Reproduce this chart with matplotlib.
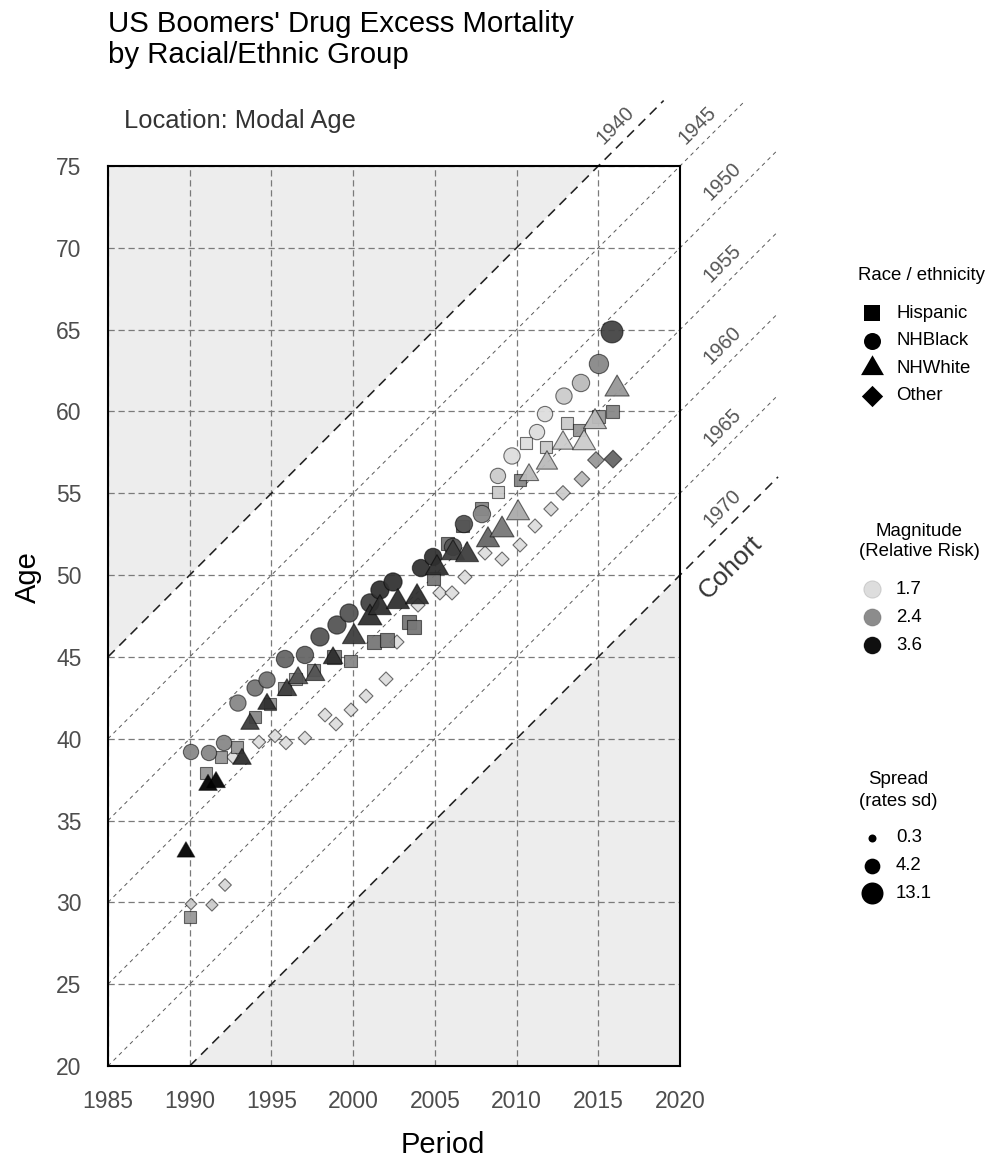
import numpy as np
import matplotlib
matplotlib.use("Agg")
import matplotlib.pyplot as plt
from matplotlib.path import Path
from matplotlib.colors import LinearSegmentedColormap, Normalize

plt.rcParams['font.family'] = ['Liberation Sans', 'DejaVu Sans']

# modal-age location per year, by group (period, age, relative risk, rates sd)
hisp_period = [1990.02, 1991.0, 1991.91, 1992.89, 1993.99, 1994.91, 1995.83, 1996.5, 1997.6,
               1998.83, 1999.81, 2001.28, 2002.07, 2003.42, 2003.72, 2004.89, 2005.8, 2006.72,
               2007.88, 2008.86, 2010.21, 2010.58, 2011.8, 2013.08, 2013.82, 2015.04, 2015.9]
hisp_age = [29.11, 37.91, 38.88, 39.5, 41.33, 42.12, 43.04, 43.65, 44.2,
            44.99, 44.75, 45.91, 46.03, 47.13, 46.83, 49.82, 51.96, 53.0,
            54.04, 55.08, 55.81, 58.07, 57.83, 59.29, 58.87, 59.72, 59.97]
hisp_rr = [2.29, 2.29, 2.29, 2.29, 2.44, 2.29, 2.29, 2.14, 2.44,
           2.6, 2.44, 2.6, 2.6, 2.6, 2.6, 2.6, 2.6, 2.77,
           2.44, 1.84, 2.44, 1.69, 1.84, 1.84, 2.29, 2.29, 2.44]
hisp_sd = [2.3, 2.3, 2.3, 2.3, 2.3, 2.3, 3.2, 3.2, 3.2,
           4.3, 3.2, 4.3, 4.3, 4.3, 4.3, 3.2, 3.2, 3.2,
           3.2, 2.3, 2.3, 2.3, 2.3, 2.3, 2.3, 3.2, 3.2]

black_period = [1990.08, 1991.18, 1992.1, 1992.95, 1994.0, 1994.73, 1995.83, 1997.05, 1997.97,
                1999.01, 1999.75, 2001.03, 2001.64, 2002.44, 2004.15, 2004.89, 2006.11, 2006.78,
                2007.88, 2008.86, 2009.72, 2011.25, 2011.74, 2012.9, 2013.94, 2015.04, 2015.84]
black_age = [39.19, 39.13, 39.74, 42.18, 43.1, 43.59, 44.87, 45.12, 46.22,
             46.95, 47.68, 48.3, 49.09, 49.58, 50.43, 51.11, 51.72, 53.12,
             53.73, 56.06, 57.28, 58.74, 59.84, 60.94, 61.74, 62.9, 64.86]
black_rr = [2.44, 2.44, 2.44, 2.44, 2.6, 2.6, 2.77, 2.77, 2.93,
            2.93, 2.93, 3.1, 3.26, 3.26, 3.26, 3.26, 2.93, 2.93,
            2.44, 1.84, 1.69, 1.69, 1.69, 1.84, 1.99, 2.44, 3.1]
black_sd = [3.8, 3.8, 3.8, 4.8, 4.8, 4.8, 6.0, 6.0, 7.2,
            7.2, 7.2, 7.2, 7.2, 7.2, 6.0, 6.0, 6.0, 6.0,
            6.0, 3.8, 4.8, 3.8, 3.8, 4.8, 6.0, 8.6, 13.1]

white_period = [1989.77, 1991.12, 1991.61, 1993.2, 1993.69, 1994.73, 1995.95, 1996.63, 1997.67,
                1998.77, 2000.05, 2001.03, 2001.64, 2002.74, 2003.91, 2005.13, 2006.11, 2006.97,
                2008.25, 2009.11, 2010.09, 2010.76, 2011.86, 2012.84, 2014.13, 2014.8, 2016.15]
white_age = [33.08, 37.17, 37.34, 38.76, 40.9, 42.12, 42.98, 43.71, 43.9,
             44.93, 46.22, 47.38, 47.99, 48.36, 48.66, 50.43, 51.35, 51.23,
             52.14, 52.76, 53.79, 56.12, 56.85, 58.07, 58.07, 59.36, 61.37]
white_rr = [3.72, 3.72, 3.72, 3.3, 3.15, 3.3, 3.15, 2.95, 2.95,
            3.3, 3.15, 3.3, 3.3, 3.3, 3.3, 3.3, 3.15, 3.15,
            2.77, 2.6, 2.14, 1.99, 1.99, 1.84, 1.84, 1.99, 2.29]
white_sd = [2.0, 2.4, 2.4, 2.4, 2.4, 2.4, 3.0, 3.0, 3.0,
            3.0, 5.8, 6.6, 5.8, 5.8, 5.8, 5.8, 5.8, 5.8,
            5.8, 6.6, 5.8, 3.0, 4.3, 4.3, 5.8, 5.8, 6.8]

other_period = [1990.08, 1991.36, 1992.16, 1992.65, 1994.24, 1995.22, 1995.89, 1997.05, 1998.28,
                1998.95, 1999.87, 2000.79, 2002.01, 2002.68, 2003.97, 2005.31, 2006.05, 2006.84,
                2008.07, 2009.11, 2010.21, 2011.13, 2012.11, 2012.84, 2014.0, 2014.86, 2015.9]
other_age = [29.9, 29.84, 31.06, 38.88, 39.8, 40.17, 39.74, 40.05, 41.45,
             40.9, 41.76, 42.61, 43.65, 45.91, 48.17, 48.91, 48.91, 49.88,
             51.35, 50.98, 51.84, 53.0, 54.04, 55.02, 55.87, 57.03, 57.09]
other_rr = [1.84, 1.84, 1.75, 1.69, 1.69, 1.69, 1.69, 1.69, 1.69,
            1.69, 1.69, 1.69, 1.69, 1.69, 1.69, 1.69, 1.69, 1.69,
            1.69, 1.69, 1.69, 1.69, 1.75, 1.84, 1.99, 2.29, 2.77]
other_sd = [0.4, 0.5, 0.6, 0.8, 0.8, 0.8, 0.8, 0.8, 0.9,
            0.9, 0.9, 0.9, 1.0, 1.0, 1.0, 1.0, 1.0, 1.0,
            1.0, 1.0, 1.0, 1.0, 1.1, 1.2, 1.6, 2.2, 2.8]

groups = ['Hispanic', 'NHBlack', 'NHWhite', 'Other']
cohorts = [1940, 1945, 1950, 1955, 1960, 1965, 1970]
rr_breaks = [1.7, 2.4, 3.6]
sd_breaks = [0.3, 4.2, 13.1]

# ---- scales ----
gray_map = LinearSegmentedColormap.from_list(
    'rr', [(0.0, '#e6e6e6'), (0.1 / 2.15, '#dcdcdc'), (0.8 / 2.15, '#8c8c8c'),
           (2.0 / 2.15, '#101010'), (1.0, '#000000')])
rr_norm = Normalize(1.6, 3.75)

def radius_px(sd):
    sd = np.asarray(sd, dtype=float)
    return 4 + 7 * np.sqrt(np.clip((sd - 0.3) / 12.8, 0, 1))

tri = Path([(0, 1), (-0.866, -0.5), (0.866, -0.5), (0, 1)],
           [Path.MOVETO, Path.LINETO, Path.LINETO, Path.CLOSEPOLY])
# marker, factor from radius to matplotlib marker size
shape = {'Hispanic': ('s', 1.772), 'NHBlack': ('o', 2.0),
         'NHWhite': (tri, 3.11), 'Other': ('D', 1.772)}
PT = 0.72

def msize(sd, g):
    return (radius_px(sd) * shape[g][1] * PT) ** 2

def fills(rr, a=0.95):
    c = gray_map(rr_norm(np.asarray(rr)))
    c[:, 3] = a
    return c

fig = plt.figure(figsize=(9.92, 11.65), dpi=100)
ax = fig.add_axes([108 / 992, 1 - 1066 / 1165, 572 / 992, 900 / 1165])
x0, x1, y0, y1 = 1985, 2020, 20, 75
ax.set_xlim(x0, x1)
ax.set_ylim(y0, y1)

# shaded zones outside boomer cohorts
ax.fill([x0, x0, y1 + cohorts[0]], [x0 - cohorts[0], y1, y1], color='#ededed', lw=0, zorder=0.1)
ax.fill([y0 + cohorts[-1], x1, x1], [y0, y0, x1 - cohorts[-1]], color='#ededed', lw=0, zorder=0.1)

ax.set_xticks(range(1985, 2021, 5))
ax.set_yticks(range(20, 76, 5))
ax.grid(True, color='#7a7a7a', lw=0.9, linestyle=(0, (5, 3)))
ax.set_axisbelow(True)
ax.tick_params(length=0, labelsize=16.5, labelcolor='#4d4d4d')
ax.tick_params(axis='y', pad=19)
ax.tick_params(axis='x', pad=17)
for s in ax.spines.values():
    s.set_linewidth(1.5)
    s.set_color('black')
    s.set_zorder(5)

# cohort diagonals
for c in cohorts:
    p0 = max(x0, y0 + c)
    p1 = min(2026, 79 + c)
    edge = c in (cohorts[0], cohorts[-1])
    ax.plot([p0, p1], [p0 - c, p1 - c], color='#222222' if edge else '#5a5a5a',
            lw=1.15 if edge else 0.7, dashes=(6, 4) if edge else (4, 4),
            clip_on=False, zorder=1.5)
    pl = min(2022.6, c + 76.05)
    ax.text(pl, pl - c + 1.45, str(c), rotation=45, rotation_mode='anchor',
            ha='center', va='center', fontsize=14.5, color='#555555', clip_on=False)
ax.text(2023.1, 50.5, 'Cohort', rotation=45, rotation_mode='anchor', ha='center',
        va='center', fontsize=18.8, color='#333333', clip_on=False)

data = {'Hispanic': (hisp_period, hisp_age, hisp_rr, hisp_sd),
        'NHBlack': (black_period, black_age, black_rr, black_sd),
        'NHWhite': (white_period, white_age, white_rr, white_sd),
        'Other': (other_period, other_age, other_rr, other_sd)}
for g in ['Other', 'Hispanic', 'NHBlack', 'NHWhite']:
    p, a, rr, sd = data[g]
    ax.scatter(p, a, s=msize(sd, g), marker=shape[g][0], c=fills(rr),
               edgecolors=(0, 0, 0, 0.55), linewidths=0.8, zorder=3, clip_on=False)

fig.text(443 / 992, 1 - 1145 / 1165, 'Period', fontsize=21, ha='center', va='center')
fig.text(28 / 992, 1 - 577 / 1165, 'Age', fontsize=21, ha='center', va='center', rotation=90)

fig.text(108 / 992, 1 - 32 / 1165, "US Boomers' Drug Excess Mortality", fontsize=21.2,
         va='baseline', ha='left')
fig.text(108 / 992, 1 - 63 / 1165, "by Racial/Ethnic Group", fontsize=21.2,
         va='baseline', ha='left')
fig.text(124 / 992, 1 - 128 / 1165, "Location: Modal Age", fontsize=18.4, color='#333333',
         va='baseline', ha='left')

# ---- legends (pixel coordinates overlay) ----
lax = fig.add_axes([0, 0, 1, 1], zorder=10)
lax.set_xlim(0, 992)
lax.set_ylim(1165, 0)
lax.axis('off')
kx, tx, fs = 872, 896, 13.4

lax.text(858, 276, 'Race / ethnicity', fontsize=fs, va='center', ha='left')
for i, g in enumerate(groups):
    y = 313 + i * 27.6
    lax.scatter([kx], [y], s=msize(5.6, g), marker=shape[g][0], color='black', lw=0)
    lax.text(tx, y, g, fontsize=fs, va='center', ha='left')

lax.text(919, 532, 'Magnitude', fontsize=fs, va='center', ha='center')
lax.text(919, 552, '(Relative Risk)', fontsize=fs, va='center', ha='center')
for i, v in enumerate(rr_breaks):
    y = 589 + i * 28
    lax.scatter([kx], [y], s=msize(6.0, 'NHBlack'), marker='o', c=fills([v], 1.0),
                edgecolors=(0, 0, 0, 0.12), linewidths=0.75)
    lax.text(tx, y, str(v), fontsize=fs, va='center', ha='left')

lax.text(898, 780, 'Spread', fontsize=fs, va='center', ha='center')
lax.text(898, 802, '(rates sd)', fontsize=fs, va='center', ha='center')
for i, v in enumerate(sd_breaks):
    y = 838 + i * 27.5
    lax.scatter([kx], [y], s=msize(v, 'NHBlack'), marker='o', color='black', lw=0)
    lax.text(tx, y, str(v), fontsize=fs, va='center', ha='left')

fig.savefig('out.png', dpi=100)
